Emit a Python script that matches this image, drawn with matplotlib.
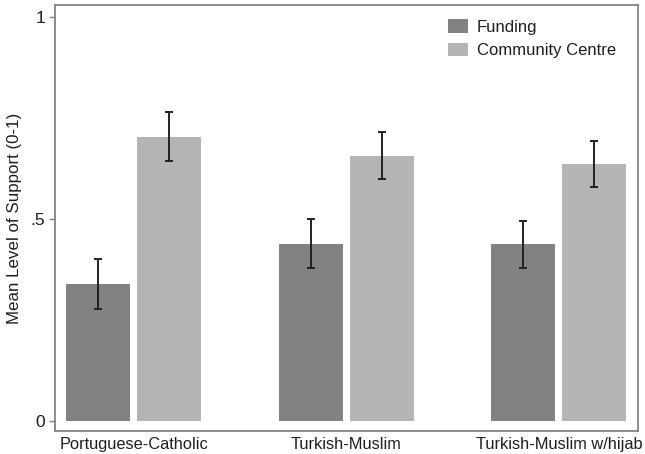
import numpy as np
import matplotlib
matplotlib.use('Agg')
import matplotlib.pyplot as plt

plt.rcParams['font.family'] = ['Liberation Sans', 'DejaVu Sans']

groups = ['Portuguese-Catholic', 'Turkish-Muslim', 'Turkish-Muslim w/hijab']
series = ['Funding', 'Community Centre']

funding = [0.339, 0.439, 0.438]
funding_lo = [0.277, 0.379, 0.379]
funding_hi = [0.401, 0.500, 0.497]

centre = [0.704, 0.657, 0.638]
centre_lo = [0.644, 0.599, 0.580]
centre_hi = [0.765, 0.715, 0.693]

yticks = [0, 0.5, 1]
yticklabels = ['0', '.5', '1']

col_fund = '#828282'
col_centre = '#b4b4b4'
frame = '#848484'
txt = '#1e1e1e'

fig = plt.figure(figsize=(6.45, 4.54), dpi=100)
ax = fig.add_axes([0.0853, 0.0496, 0.9031, 0.9394])

x = np.arange(len(groups))
w = 0.30
off = 0.167

f = np.array(funding)
c = np.array(centre)
ferr = [f - np.array(funding_lo), np.array(funding_hi) - f]
cerr = [c - np.array(centre_lo), np.array(centre_hi) - c]

ax.bar(x - off, f, w, color=col_fund, label=series[0], zorder=2)
ax.bar(x + off, c, w, color=col_centre, label=series[1], zorder=2)
ax.errorbar(x - off, f, yerr=ferr, fmt='none', ecolor='#222222',
            elinewidth=1.4, capsize=3.2, capthick=1.4, zorder=3)
ax.errorbar(x + off, c, yerr=cerr, fmt='none', ecolor='#222222',
            elinewidth=1.4, capsize=3.2, capthick=1.4, zorder=3)

ax.set_xlim(-0.37, 2.37)
ax.set_ylim(-0.0247, 1.030)

ax.set_yticks(yticks)
ax.set_yticklabels(yticklabels)
ax.set_xticks(x)
ax.set_xticklabels(groups)
ax.tick_params(axis='x', length=0, pad=4, labelsize=11.8, labelcolor=txt)
ax.tick_params(axis='y', length=4, width=1, color=frame, pad=3,
               labelsize=12.5, labelcolor=txt)

for s in ax.spines.values():
    s.set_color(frame)
    s.set_linewidth(1.3)

ax.set_ylabel('Mean Level of Support (0-1)', fontsize=12.2, color=txt, labelpad=6)

leg = ax.legend(loc='upper left', bbox_to_anchor=(0.674, 0.966), frameon=False,
                fontsize=12, handlelength=1.2, handleheight=0.9,
                handletextpad=0.55, labelspacing=0.45, borderpad=0,
                borderaxespad=0, labelcolor=txt)

fig.savefig('out.png', dpi=100, facecolor='white')
